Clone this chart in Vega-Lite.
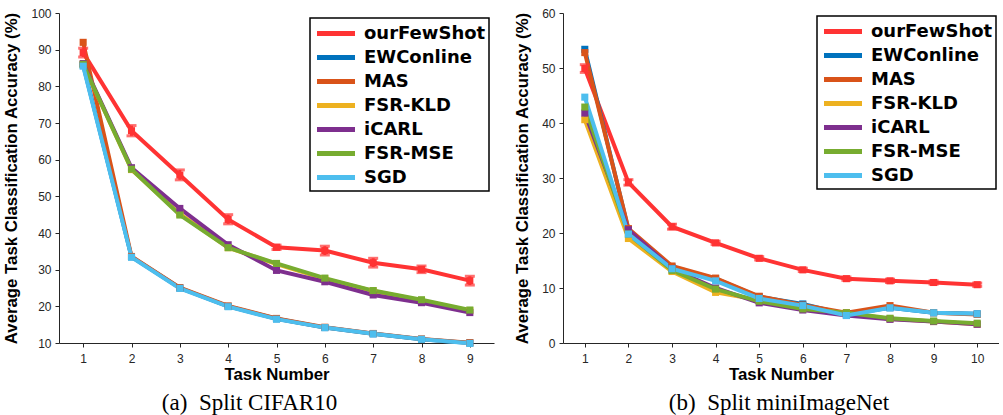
{
  "$schema": "https://vega.github.io/schema/vega-lite/v6.json",
  "padding": {"left": 3, "top": 7, "right": 0, "bottom": 0},
  "spacing": 20,
  "background": "white",
  "datasets": {
    "cifar": [
      {"m":"ourFewShot","t":1,"y":89.2,"lo":88.0,"hi":90.4},
      {"m":"ourFewShot","t":2,"y":67.9,"lo":66.5,"hi":69.3},
      {"m":"ourFewShot","t":3,"y":55.8,"lo":54.5,"hi":57.2},
      {"m":"ourFewShot","t":4,"y":43.7,"lo":42.5,"hi":45.0},
      {"m":"ourFewShot","t":5,"y":36.1,"lo":35.5,"hi":36.7},
      {"m":"ourFewShot","t":6,"y":35.2,"lo":34.0,"hi":36.4},
      {"m":"ourFewShot","t":7,"y":31.9,"lo":30.7,"hi":33.1},
      {"m":"ourFewShot","t":8,"y":30.1,"lo":29.2,"hi":31.0},
      {"m":"ourFewShot","t":9,"y":27.0,"lo":25.8,"hi":28.2},
      {"m":"EWConline","t":1,"y":85.8},{"m":"EWConline","t":2,"y":33.5},{"m":"EWConline","t":3,"y":25.0},{"m":"EWConline","t":4,"y":20.0},{"m":"EWConline","t":5,"y":16.6},{"m":"EWConline","t":6,"y":14.2},{"m":"EWConline","t":7,"y":12.5},{"m":"EWConline","t":8,"y":11.0},{"m":"EWConline","t":9,"y":10.0},
      {"m":"MAS","t":1,"y":92.0},{"m":"MAS","t":2,"y":33.6},{"m":"MAS","t":3,"y":25.1},{"m":"MAS","t":4,"y":20.1},{"m":"MAS","t":5,"y":16.7},{"m":"MAS","t":6,"y":14.3},{"m":"MAS","t":7,"y":12.6},{"m":"MAS","t":8,"y":11.1},{"m":"MAS","t":9,"y":10.1},
      {"m":"FSR-KLD","t":1,"y":86.0},{"m":"FSR-KLD","t":2,"y":57.3},{"m":"FSR-KLD","t":3,"y":45.2},{"m":"FSR-KLD","t":4,"y":36.0},{"m":"FSR-KLD","t":5,"y":31.5},{"m":"FSR-KLD","t":6,"y":27.5},{"m":"FSR-KLD","t":7,"y":24.2},{"m":"FSR-KLD","t":8,"y":21.6},{"m":"FSR-KLD","t":9,"y":18.8},
      {"m":"iCARL","t":1,"y":86.2},{"m":"iCARL","t":2,"y":57.8},{"m":"iCARL","t":3,"y":46.7},{"m":"iCARL","t":4,"y":36.8},{"m":"iCARL","t":5,"y":29.8},{"m":"iCARL","t":6,"y":26.7},{"m":"iCARL","t":7,"y":23.1},{"m":"iCARL","t":8,"y":21.0},{"m":"iCARL","t":9,"y":18.3},
      {"m":"FSR-MSE","t":1,"y":86.0},{"m":"FSR-MSE","t":2,"y":57.4},{"m":"FSR-MSE","t":3,"y":44.9},{"m":"FSR-MSE","t":4,"y":36.0},{"m":"FSR-MSE","t":5,"y":31.7},{"m":"FSR-MSE","t":6,"y":27.7},{"m":"FSR-MSE","t":7,"y":24.3},{"m":"FSR-MSE","t":8,"y":21.8},{"m":"FSR-MSE","t":9,"y":19.0},
      {"m":"SGD","t":1,"y":85.5},{"m":"SGD","t":2,"y":33.4},{"m":"SGD","t":3,"y":24.9},{"m":"SGD","t":4,"y":19.9},{"m":"SGD","t":5,"y":16.5},{"m":"SGD","t":6,"y":14.2},{"m":"SGD","t":7,"y":12.5},{"m":"SGD","t":8,"y":11.0},{"m":"SGD","t":9,"y":9.9}
    ],
    "mini": [
      {"m":"ourFewShot","t":1,"y":49.9,"lo":49.2,"hi":50.6},
      {"m":"ourFewShot","t":2,"y":29.2,"lo":28.7,"hi":29.7},
      {"m":"ourFewShot","t":3,"y":21.15,"lo":20.7,"hi":21.6},
      {"m":"ourFewShot","t":4,"y":18.2,"lo":17.9,"hi":18.5},
      {"m":"ourFewShot","t":5,"y":15.4,"lo":15.1,"hi":15.7},
      {"m":"ourFewShot","t":6,"y":13.3,"lo":13.0,"hi":13.6},
      {"m":"ourFewShot","t":7,"y":11.7,"lo":11.4,"hi":12.0},
      {"m":"ourFewShot","t":8,"y":11.3,"lo":11.0,"hi":11.6},
      {"m":"ourFewShot","t":9,"y":11.0,"lo":10.7,"hi":11.3},
      {"m":"ourFewShot","t":10,"y":10.6,"lo":10.3,"hi":10.9},
      {"m":"EWConline","t":1,"y":53.4},{"m":"EWConline","t":2,"y":20.6},{"m":"EWConline","t":3,"y":13.8},{"m":"EWConline","t":4,"y":11.7},{"m":"EWConline","t":5,"y":8.4},{"m":"EWConline","t":6,"y":7.1},{"m":"EWConline","t":7,"y":5.2},{"m":"EWConline","t":8,"y":6.4},{"m":"EWConline","t":9,"y":5.5},{"m":"EWConline","t":10,"y":5.3},
      {"m":"MAS","t":1,"y":52.8},{"m":"MAS","t":2,"y":20.8},{"m":"MAS","t":3,"y":14.0},{"m":"MAS","t":4,"y":11.8},{"m":"MAS","t":5,"y":8.5},{"m":"MAS","t":6,"y":6.9},{"m":"MAS","t":7,"y":5.5},{"m":"MAS","t":8,"y":6.8},{"m":"MAS","t":9,"y":5.5},{"m":"MAS","t":10,"y":5.2},
      {"m":"FSR-KLD","t":1,"y":40.6},{"m":"FSR-KLD","t":2,"y":19.0},{"m":"FSR-KLD","t":3,"y":13.0},{"m":"FSR-KLD","t":4,"y":9.2},{"m":"FSR-KLD","t":5,"y":7.8},{"m":"FSR-KLD","t":6,"y":6.3},{"m":"FSR-KLD","t":7,"y":5.4},{"m":"FSR-KLD","t":8,"y":4.4},{"m":"FSR-KLD","t":9,"y":3.9},{"m":"FSR-KLD","t":10,"y":3.4},
      {"m":"iCARL","t":1,"y":41.8},{"m":"iCARL","t":2,"y":20.6},{"m":"iCARL","t":3,"y":13.5},{"m":"iCARL","t":4,"y":10.0},{"m":"iCARL","t":5,"y":7.3},{"m":"iCARL","t":6,"y":6.0},{"m":"iCARL","t":7,"y":5.0},{"m":"iCARL","t":8,"y":4.3},{"m":"iCARL","t":9,"y":3.9},{"m":"iCARL","t":10,"y":3.4},
      {"m":"FSR-MSE","t":1,"y":42.9},{"m":"FSR-MSE","t":2,"y":19.8},{"m":"FSR-MSE","t":3,"y":13.2},{"m":"FSR-MSE","t":4,"y":9.8},{"m":"FSR-MSE","t":5,"y":7.6},{"m":"FSR-MSE","t":6,"y":6.2},{"m":"FSR-MSE","t":7,"y":5.5},{"m":"FSR-MSE","t":8,"y":4.5},{"m":"FSR-MSE","t":9,"y":4.0},{"m":"FSR-MSE","t":10,"y":3.6},
      {"m":"SGD","t":1,"y":44.7},{"m":"SGD","t":2,"y":19.8},{"m":"SGD","t":3,"y":13.5},{"m":"SGD","t":4,"y":11.3},{"m":"SGD","t":5,"y":8.1},{"m":"SGD","t":6,"y":6.8},{"m":"SGD","t":7,"y":5.0},{"m":"SGD","t":8,"y":6.4},{"m":"SGD","t":9,"y":5.5},{"m":"SGD","t":10,"y":5.3}
    ]
  },
  "resolve": {"scale": {"color": "independent", "x": "independent", "y": "independent"}, "legend": {"color": "independent"}},
  "hconcat": [
    {
      "width": 435, "height": 330,
      "data": {"name": "cifar"},
      "title": {"text": "(a)\u00a0\u00a0Split CIFAR10", "orient": "bottom", "font": "Liberation Serif", "fontSize": 23, "fontWeight": "normal", "offset": 9, "dx": -27, "color": "black"},
      "layer": [
        {
          "mark": {"type": "line", "strokeWidth": 4, "point": {"shape": "square", "size": 50, "filled": true}},
          "encoding": {
            "x": {"field": "t", "type": "quantitative", "title": "Task Number", "scale": {"domain": [0.5, 9.5], "nice": false}, "axis": {"values": [1,2,3,4,5,6,7,8,9]}},
            "y": {"field": "y", "type": "quantitative", "title": "Average Task Classification Accuracy (%)", "scale": {"domain": [10, 100], "nice": false}, "axis": {"values": [10,20,30,40,50,60,70,80,90,100], "labelOverlap": false}},
            "color": {"field": "m", "type": "nominal", "sort": null,
              "scale": {"domain": ["ourFewShot","EWConline","MAS","FSR-KLD","iCARL","FSR-MSE","SGD"], "range": ["#FF3333","#0072BD","#D95319","#EDB120","#7E2F8E","#77AC30","#4DBEEE"]},
              "legend": {"orient": "top-right", "offset": 5, "title": null}}
          }
        },
        {
          "transform": [{"filter": "datum.m === 'ourFewShot'"}],
          "mark": {"type": "errorbar", "ticks": {"size": 10, "thickness": 3, "color": "#FF3333"}, "rule": {"strokeWidth": 3, "color": "#FF3333"}},
          "encoding": {
            "x": {"field": "t", "type": "quantitative", "title": "Task Number", "scale": {"domain": [0.5, 9.5], "nice": false}, "axis": {"values": [1,2,3,4,5,6,7,8,9]}},
            "y": {"field": "lo", "type": "quantitative", "title": "Average Task Classification Accuracy (%)", "scale": {"domain": [10, 100], "nice": false}, "axis": {"values": [10,20,30,40,50,60,70,80,90,100], "labelOverlap": false}},
            "y2": {"field": "hi"}
          }
        }
      ]
    },
    {
      "width": 436, "height": 330,
      "data": {"name": "mini"},
      "title": {"text": "(b)\u00a0\u00a0Split miniImageNet", "orient": "bottom", "font": "Liberation Serif", "fontSize": 23, "fontWeight": "normal", "offset": 9, "dx": -2, "color": "black"},
      "layer": [
        {
          "mark": {"type": "line", "strokeWidth": 4, "point": {"shape": "square", "size": 50, "filled": true}},
          "encoding": {
            "x": {"field": "t", "type": "quantitative", "title": "Task Number", "scale": {"domain": [0.5, 10.5], "nice": false}, "axis": {"values": [1,2,3,4,5,6,7,8,9,10]}},
            "y": {"field": "y", "type": "quantitative", "title": "Average Task Classification Accuracy (%)", "scale": {"domain": [0, 60], "nice": false}, "axis": {"values": [0,10,20,30,40,50,60], "labelOverlap": false}},
            "color": {"field": "m", "type": "nominal", "sort": null,
              "scale": {"domain": ["ourFewShot","EWConline","MAS","FSR-KLD","iCARL","FSR-MSE","SGD"], "range": ["#FF3333","#0072BD","#D95319","#EDB120","#7E2F8E","#77AC30","#4DBEEE"]},
              "legend": {"orient": "top-right", "offset": 3, "title": null}}
          }
        },
        {
          "transform": [{"filter": "datum.m === 'ourFewShot'"}],
          "mark": {"type": "errorbar", "ticks": {"size": 10, "thickness": 3, "color": "#FF3333"}, "rule": {"strokeWidth": 3, "color": "#FF3333"}},
          "encoding": {
            "x": {"field": "t", "type": "quantitative", "title": "Task Number", "scale": {"domain": [0.5, 10.5], "nice": false}, "axis": {"values": [1,2,3,4,5,6,7,8,9,10]}},
            "y": {"field": "lo", "type": "quantitative", "title": "Average Task Classification Accuracy (%)", "scale": {"domain": [0, 60], "nice": false}, "axis": {"values": [0,10,20,30,40,50,60], "labelOverlap": false}},
            "y2": {"field": "hi"}
          }
        }
      ]
    }
  ],
  "config": {
    "view": {"stroke": null},
    "axis": {"grid": false, "domainColor": "#262626", "domainWidth": 1, "tickColor": "#262626", "tickSize": 4, "labelColor": "#262626", "labelFont": "Liberation Sans", "labelFontSize": 12, "titleFont": "Liberation Sans", "titleFontWeight": "bold", "titleColor": "black", "titleFontSize": 16.8},
    "axisY": {"labelPadding": 4, "titlePadding": 10},
    "axisX": {"labelPadding": 6, "titlePadding": 2},
    "legend": {"symbolType": "M-1.9,0H1.9", "symbolStrokeWidth": 5, "symbolSize": 400, "symbolOffset": 10.5, "labelFont": "DejaVu Sans", "labelFontWeight": "bold", "labelFontSize": 18, "labelColor": "black", "strokeColor": "black", "strokeWidth": 1.5, "fillColor": "white", "padding": 3, "rowPadding": 1, "labelOffset": 15.5, "labelLimit": 300}
  }
}
